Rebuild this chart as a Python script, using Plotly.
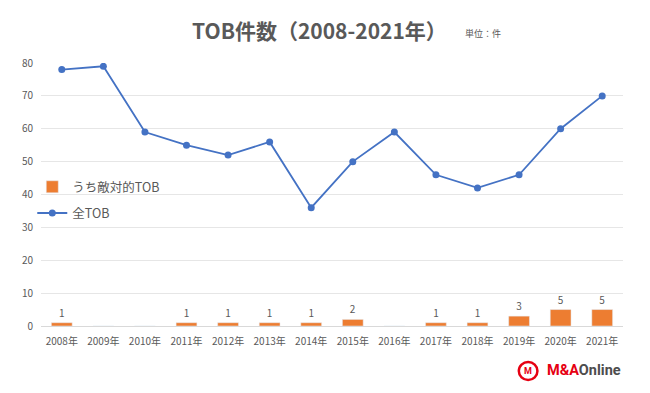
import plotly.graph_objects as go

years = ["2008年", "2009年", "2010年", "2011年", "2012年", "2013年", "2014年",
         "2015年", "2016年", "2017年", "2018年", "2019年", "2020年", "2021年"]
all_tob = [78, 79, 59, 55, 52, 56, 36, 50, 59, 46, 42, 46, 60, 70]
hostile_tob = [1, 0, 0, 1, 1, 1, 1, 2, 0, 1, 1, 3, 5, 5]
y_ticks = [0, 10, 20, 30, 40, 50, 60, 70, 80]

FONT = "Noto Sans CJK JP"
GREY = "#595959"
RED = "#E60012"

fig = go.Figure()
fig.add_trace(go.Bar(
    x=years, y=hostile_tob, name="うち敵対的TOB", legendgroup="a",
    marker_color="#ED7D31", width=0.5,
    text=[str(v) if v else "" for v in hostile_tob],
    textposition="outside", textfont=dict(size=10, color=GREY, family=FONT),
    cliponaxis=False,
))
fig.add_trace(go.Scatter(
    x=years, y=all_tob, name="全TOB", mode="lines+markers", legendgroup="b",
    line=dict(color="#4472C4", width=1.8),
    marker=dict(color="#4472C4", size=7),
))

fig.update_layout(
    width=650, height=393,
    margin=dict(l=41, r=27, t=63, b=67),
    paper_bgcolor="white", plot_bgcolor="white",
    font=dict(family=FONT, color=GREY, size=10),
    showlegend=True,
    legend=dict(x=-0.015, y=0.585, xanchor="left", yanchor="top",
                font=dict(size=12.5, color=GREY), traceorder="grouped",
                bgcolor="rgba(0,0,0,0)", itemwidth=30, tracegroupgap=7),
    annotations=[
        dict(text="TOB件数（2008-2021年）", xref="paper", yref="paper",
             x=0.479, y=1.0, yshift=33, xanchor="center", yanchor="middle",
             showarrow=False, font=dict(size=21, color=GREY, family=FONT, weight=600)),
        dict(text="単位：件", xref="paper", yref="paper",
             x=0.759, y=1.0, yshift=30, xanchor="center", yanchor="middle",
             showarrow=False, font=dict(size=9, color=GREY, family=FONT)),
        dict(text="<b><span style='color:#E60012'>M&amp;A</span><span style='color:#4d4d4d'>Online</span></b>",
             xref="paper", yref="paper", x=1.0, y=-0.171,
             xanchor="right", yanchor="middle", showarrow=False,
             font=dict(size=14.5, family="Roboto")),
        dict(text="<b>M</b>", xref="paper", yref="paper", x=0.837, y=-0.171,
             xanchor="center", yanchor="middle", showarrow=False,
             font=dict(size=9, color=RED, family="Roboto")),
    ],
    shapes=[
        dict(type="circle", xref="paper", yref="paper",
             x0=0.821, x1=0.853, y0=-0.205, y1=-0.137,
             fillcolor="white", line=dict(color=RED, width=2.5)),
    ],
)
fig.update_xaxes(range=[-0.5, 13.5], showgrid=False, showline=True, linecolor="#d9d9d9",
                 ticks="", tickfont=dict(size=10, color=GREY), automargin=False,
                 ticklabelstandoff=6)
fig.update_yaxes(range=[0, 80], tickvals=y_ticks, showgrid=True,
                 gridcolor="#e6e6e6", zeroline=False, showline=False,
                 ticks="", tickfont=dict(size=10, color=GREY), automargin=False,
                 ticklabelstandoff=7)

fig.write_html("out.html", config={"displayModeBar": False},
               post_script="document.body.style.margin='0';")
